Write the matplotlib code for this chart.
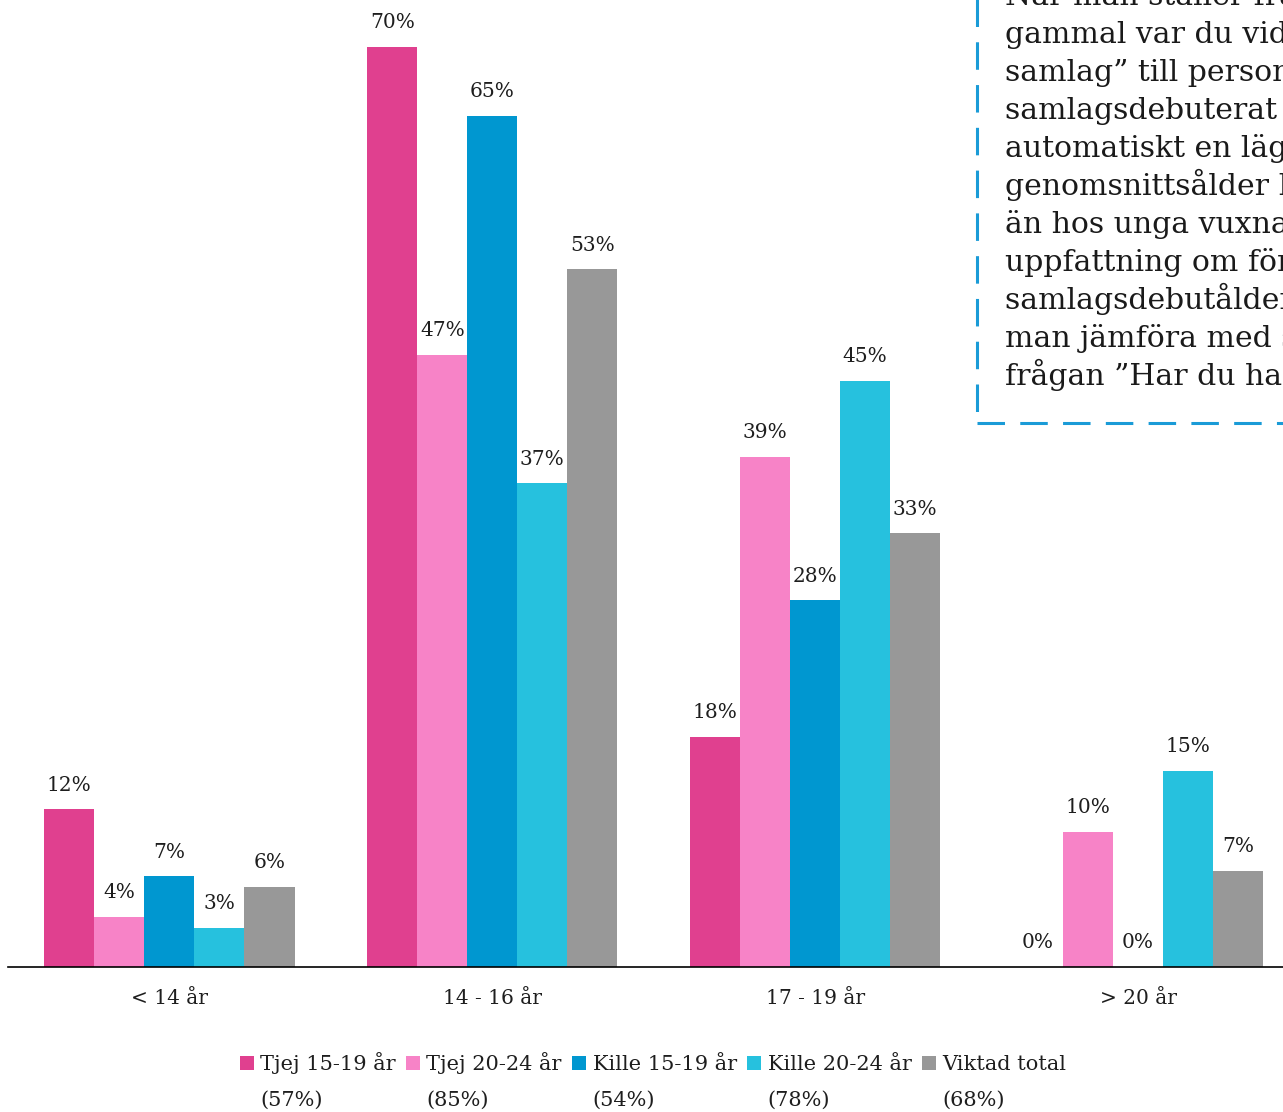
import matplotlib
matplotlib.use("Agg")
import matplotlib.pyplot as plt
import numpy as np
from matplotlib.patches import Rectangle

# data
categories = ["< 14 år", "14 - 16 år", "17 - 19 år", "> 20 år"]
series = ["Tjej 15-19 år", "Tjej 20-24 år", "Kille 15-19 år", "Kille 20-24 år", "Viktad total"]
shares = ["(57%)", "(85%)", "(54%)", "(78%)", "(68%)"]
tjej_15_19 = [12.0, 70.0, 17.5, 0.0]
tjej_20_24 = [3.8, 46.6, 38.8, 10.3]
kille_15_19 = [6.9, 64.8, 27.9, 0.0]
kille_20_24 = [3.0, 36.8, 44.6, 14.9]
viktad_total = [6.1, 53.1, 33.0, 7.3]
colors = ["#E0408F", "#F783C7", "#0097D0", "#26C1DE", "#989898"]

note_lines = [
    "När man ställer frågan ”Hur",
    "gammal var du vid första",
    "samlag” till personer som",
    "samlagsdebuterat får man",
    "automatiskt en lägre",
    "genomsnittsålder hos unga",
    "än hos unga vuxna. För en",
    "uppfattning om förändringar i",
    "samlagsdebutåldern bör",
    "man jämföra med svaren på",
    "frågan ”Har du haft samlag?”",
]

plt.rcParams['font.family'] = ['DejaVu Serif']
W, H = 1283, 1112
fig = plt.figure(figsize=(W / 100, H / 100), dpi=100)
ax = fig.add_axes([8 / W, (H - 967) / H, (W - 8) / W, 967 / H])

values = [tjej_15_19, tjej_20_24, kille_15_19, kille_20_24, viktad_total]
x = np.arange(len(categories))
bw = 0.155
for i, (name, vals) in enumerate(zip(series, values)):
    pos = x + (i - 2) * bw
    ax.bar(pos, vals, bw, color=colors[i], label=name)
    for p, v in zip(pos, vals):
        ax.annotate("%d%%" % round(v), (p, v), xytext=(0, 13.5), textcoords="offset points",
                    ha="center", va="baseline", fontsize=14.5, color="#1e1e1e")

ax.set_xlim(-0.5, 3.449)
ax.set_ylim(0, 967 / 13.14)
for s in ["top", "right", "left"]:
    ax.spines[s].set_visible(False)
ax.spines["bottom"].set_linewidth(1.2)
ax.set_yticks([])
ax.set_xticks(x)
ax.set_xticklabels(categories, fontsize=14.5, color="#1e1e1e")
ax.tick_params(axis="x", length=0, pad=16)

leg = fig.legend(loc="center", bbox_to_anchor=(653 / W, 1 - 1063 / H), ncol=5, frameon=False,
                 fontsize=15, handlelength=0.68, handleheight=0.68, handletextpad=0.3,
                 columnspacing=0.5, borderpad=0, borderaxespad=0)
for t in leg.get_texts():
    t.set_color("#1e1e1e")

fig.canvas.draw()
inv = fig.transFigure.inverted()
for t, s in zip(leg.get_texts(), shares):
    bb = t.get_window_extent()
    x0 = inv.transform((bb.x0, 0))[0]
    fig.text(x0, 1 - 1100 / H, s, ha="left", va="center", fontsize=15, color="#1e1e1e")

# note box, cut off at the figure edge as in the original
box = Rectangle((977 / W, 1 - 423 / H), 0.5, 0.5, transform=fig.transFigure, fill=False,
                edgecolor="#1A9BD7", linewidth=2.2, linestyle=(0, (9, 5)))
fig.patches.append(box)
for i, line in enumerate(note_lines):
    fig.text(1005 / W, 1 - (5 + 38 * i) / H, line, ha="left", va="baseline",
             fontsize=21.5, color="#1a1a1a")

fig.savefig("out.png", dpi=100)
